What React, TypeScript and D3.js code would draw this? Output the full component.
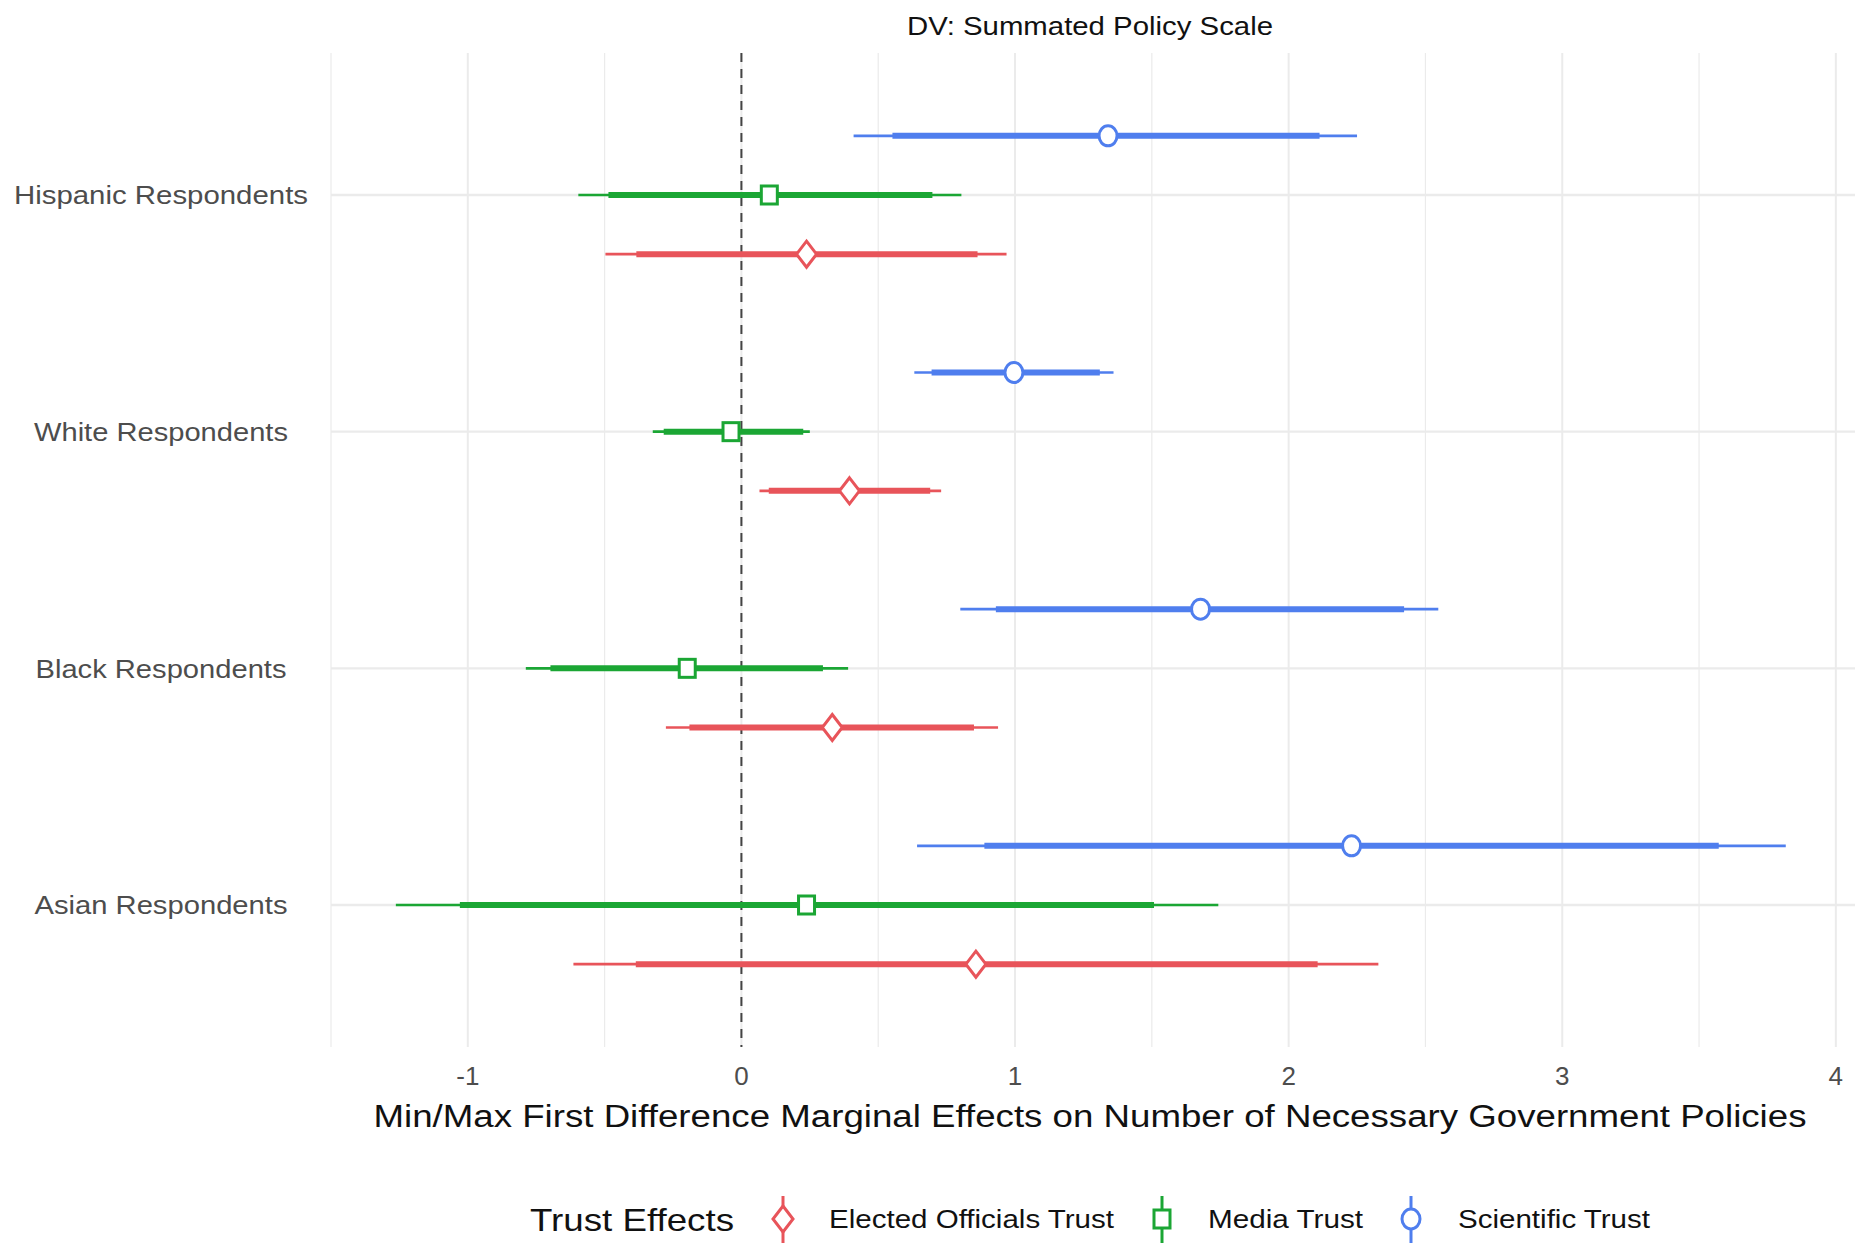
import React from "react";
import * as d3 from "d3";

// ---- data ----
const categories = ["Hispanic Respondents", "White Respondents", "Black Respondents", "Asian Respondents"];
const seriesNames = ["Elected Officials Trust", "Media Trust", "Scientific Trust"];
const seriesColors = ["#E8545A", "#1BA634", "#4F7EEE"];
const seriesShapes = ["diamond", "square", "circle"];
// per category (same order as categories): [outerLo, innerLo, estimate, innerHi, outerHi]
const electedTrust = [
  [-0.497, -0.384, 0.238, 0.863, 0.969],
  [0.066, 0.1, 0.395, 0.69, 0.73],
  [-0.276, -0.19, 0.332, 0.85, 0.938],
  [-0.614, -0.386, 0.857, 2.106, 2.328],
];
const mediaTrust = [
  [-0.596, -0.486, 0.102, 0.698, 0.804],
  [-0.324, -0.284, -0.038, 0.226, 0.25],
  [-0.788, -0.698, -0.198, 0.298, 0.39],
  [-1.263, -1.029, 0.238, 1.508, 1.743],
];
const scientificTrust = [
  [0.41, 0.552, 1.34, 2.113, 2.25],
  [0.632, 0.695, 0.996, 1.31, 1.36],
  [0.8, 0.93, 1.678, 2.422, 2.547],
  [0.642, 0.888, 2.23, 3.572, 3.817],
];
const seriesValues = [electedTrust, mediaTrust, scientificTrust];
const xMajorTicks = [-1, 0, 1, 2, 3, 4];
const xMinorTicks = [-1.5, -0.5, 0.5, 1.5, 2.5, 3.5];
const titleText = "DV: Summated Policy Scale";
const xAxisTitle = "Min/Max First Difference Marginal Effects on Number of Necessary Government Policies";
const legendTitle = "Trust Effects";

const W = 1865;
const H = 1243;
const FONT = "'Liberation Sans', Arial, Helvetica, sans-serif";

function Marker({ shape, x, y, color }: { shape: string; x: number; y: number; color: string }) {
  const sw = 3;
  if (shape === "circle") {
    return <ellipse cx={x} cy={y} rx={9} ry={10} fill="#fff" stroke={color} strokeWidth={sw} />;
  }
  if (shape === "square") {
    return <rect x={x - 8} y={y - 9} width={16} height={18} fill="#fff" stroke={color} strokeWidth={sw} />;
  }
  const p = d3.path();
  p.moveTo(x, y - 13);
  p.lineTo(x + 10, y);
  p.lineTo(x, y + 13);
  p.lineTo(x - 10, y);
  p.closePath();
  return <path d={p.toString()} fill="#fff" stroke={color} strokeWidth={sw} strokeLinejoin="miter" />;
}

export default function App() {
  const x = d3.scaleLinear().domain([-1.5, 4.07]).range([331, 1855]);
  const y = d3.scaleLinear().domain([0.4, 4.6]).range([1047, 53]);
  const pos = (i: number) => categories.length - i; // top category -> highest position
  const dodge = [-0.25, 0, 0.25];
  const yLabelWidths = [294, 254, 251, 253];
  const legendKeyX = [783, 1162, 1411];
  const legendLabelX = [829, 1208, 1458];
  const legendLabelW = [285, 155, 192];
  const grid = "#EBEBEB";

  return (
    <svg width={W} height={H} style={{ position: "absolute", left: 0, top: 0, background: "#fff" }} fontFamily={FONT}>
      <rect x={0} y={0} width={W} height={H} fill="#fff" />
      {/* grid */}
      {xMinorTicks.map((t) => (
        <line key={"mn" + t} x1={x(t)} x2={x(t)} y1={y(4.6)} y2={y(0.4)} stroke={grid} strokeWidth={1.2} />
      ))}
      {xMajorTicks.map((t) => (
        <line key={"mj" + t} x1={x(t)} x2={x(t)} y1={y(4.6)} y2={y(0.4)} stroke={grid} strokeWidth={2} />
      ))}
      {categories.map((c, i) => (
        <line key={"hg" + c} x1={x(-1.5)} x2={x(4.07)} y1={y(pos(i))} y2={y(pos(i))} stroke={grid} strokeWidth={2.4} />
      ))}
      {/* zero reference */}
      <line x1={x(0)} x2={x(0)} y1={y(4.6)} y2={y(0.4)} stroke="#444" strokeWidth={2} strokeDasharray="9,7" />
      {/* intervals */}
      {seriesValues.map((vals, s) =>
        vals.map((v, i) => {
          const yy = y(pos(i) + dodge[s]);
          const col = seriesColors[s];
          return (
            <g key={"s" + s + "c" + i}>
              <line x1={x(v[0])} x2={x(v[4])} y1={yy} y2={yy} stroke={col} strokeWidth={2.6} />
              <line x1={x(v[1])} x2={x(v[3])} y1={yy} y2={yy} stroke={col} strokeWidth={6} />
              <Marker shape={seriesShapes[s]} x={x(v[2])} y={yy} color={col} />
            </g>
          );
        })
      )}
      {/* y labels */}
      {categories.map((c, i) => (
        <text key={"yl" + c} x={161} y={y(pos(i))} dy="0.36em" textAnchor="middle" fontSize={26} fill="#4D4D4D"
          textLength={yLabelWidths[i]} lengthAdjust="spacingAndGlyphs">
          {c}
        </text>
      ))}
      {/* x tick labels */}
      {xMajorTicks.map((t) => (
        <text key={"xt" + t} x={x(t)} y={1076} dy="0.36em" textAnchor="middle" fontSize={26} fill="#4D4D4D">
          {String(t)}
        </text>
      ))}
      {/* axis title */}
      <text x={1090} y={1116} dy="0.36em" textAnchor="middle" fontSize={31} fill="#111"
        textLength={1433} lengthAdjust="spacingAndGlyphs">
        {xAxisTitle}
      </text>
      {/* title */}
      <text x={1090} y={26} dy="0.36em" textAnchor="middle" fontSize={26} fill="#111"
        textLength={366} lengthAdjust="spacingAndGlyphs">
        {titleText}
      </text>
      {/* legend */}
      <text x={530} y={1219} dy="0.36em" fontSize={32} fill="#111" textLength={204} lengthAdjust="spacingAndGlyphs">
        {legendTitle}
      </text>
      {seriesNames.map((n, s) => (
        <g key={"lg" + n}>
          <line x1={legendKeyX[s]} x2={legendKeyX[s]} y1={1196} y2={1243} stroke={seriesColors[s]} strokeWidth={3} />
          <Marker shape={seriesShapes[s]} x={legendKeyX[s]} y={1219} color={seriesColors[s]} />
          <text x={legendLabelX[s]} y={1219} dy="0.36em" fontSize={26} fill="#111"
            textLength={legendLabelW[s]} lengthAdjust="spacingAndGlyphs">
            {n}
          </text>
        </g>
      ))}
    </svg>
  );
}
